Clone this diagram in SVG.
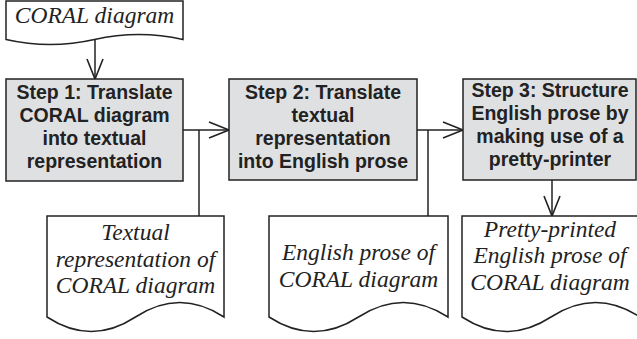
<svg xmlns="http://www.w3.org/2000/svg" width="637" height="339" viewBox="0 0 637 339">
<style>
.box{fill:#dfe0e2;stroke:#222;stroke-width:1.5}
.doc{fill:#fff;stroke:#222;stroke-width:1.5}
.bt{font-family:"Liberation Sans",Arial,sans-serif;font-weight:bold;font-size:19.5px;fill:#222;text-anchor:middle}
.dt{font-family:"Liberation Serif","Times New Roman",serif;font-style:italic;font-size:23.5px;fill:#222;text-anchor:middle}
.c{fill:none;stroke:#222;stroke-width:1.5}
</style>
<defs>
<marker id="ah" markerUnits="userSpaceOnUse" markerWidth="24" markerHeight="20" refX="21" refY="9" orient="auto" viewBox="0 0 24 20">
<path d="M1,1 L21,9 L1,17" fill="none" stroke="#222" stroke-width="1.6"/>
</marker>
</defs>
<rect width="637" height="339" fill="#fff"/>
<g id="connectors">
<line class="c" x1="95" y1="40" x2="95" y2="79" marker-end="url(#ah)"/>
<line class="c" x1="183" y1="130" x2="229" y2="130" marker-end="url(#ah)"/>
<line class="c" x1="199" y1="130" x2="199" y2="216"/>
<line class="c" x1="417" y1="130" x2="463" y2="130" marker-end="url(#ah)"/>
<line class="c" x1="428" y1="130" x2="428" y2="216"/>
<line class="c" x1="552" y1="180" x2="552" y2="216" marker-end="url(#ah)"/>
</g>
<g id="doc-input">
<path class="doc" d="M6,1 H183 V39.5 Q138.75,29.5 94.5,39.5 T6,39.5 Z"/>
<text class="dt" x="94.5" y="23">CORAL diagram</text>
</g>
<g id="step1">
<rect class="box" x="6" y="79" width="177" height="102"/>
<text class="bt" x="94.5" y="99">Step 1: Translate</text>
<text class="bt" x="94.5" y="122">CORAL diagram</text>
<text class="bt" x="94.5" y="145">into textual</text>
<text class="bt" x="94.5" y="168">representation</text>
</g>
<g id="step2">
<rect class="box" x="229" y="79" width="188" height="101"/>
<text class="bt" x="323" y="99">Step 2: Translate</text>
<text class="bt" x="323" y="122">textual</text>
<text class="bt" x="323" y="145">representation</text>
<text class="bt" x="323" y="168">into English prose</text>
</g>
<g id="step3">
<rect class="box" x="463" y="79" width="173" height="101"/>
<text class="bt" x="550" y="97">Step 3: Structure</text>
<text class="bt" x="550" y="120">English prose by</text>
<text class="bt" x="550" y="143">making use of a</text>
<text class="bt" x="550" y="166">pretty-printer</text>
</g>
<g id="doc-textual">
<path class="doc" d="M47,216 H224 V317 Q179.75,288 135.5,317 T47,317 Z"/>
<text class="dt" x="135.5" y="240">Textual</text>
<text class="dt" x="135.5" y="267">representation of</text>
<text class="dt" x="135.5" y="293">CORAL diagram</text>
</g>
<g id="doc-english">
<path class="doc" d="M269,216 H448 V317 Q403.25,288 358.5,317 T269,317 Z"/>
<text class="dt" x="358.5" y="260">English prose of</text>
<text class="dt" x="358.5" y="287">CORAL diagram</text>
</g>
<g id="doc-pretty">
<path class="doc" d="M462,216 H640 V317 Q595.5,288 551,317 T462,317 Z"/>
<text class="dt" x="550" y="237">Pretty-printed</text>
<text class="dt" x="550" y="263">English prose of</text>
<text class="dt" x="550" y="290">CORAL diagram</text>
</g>
</svg>
